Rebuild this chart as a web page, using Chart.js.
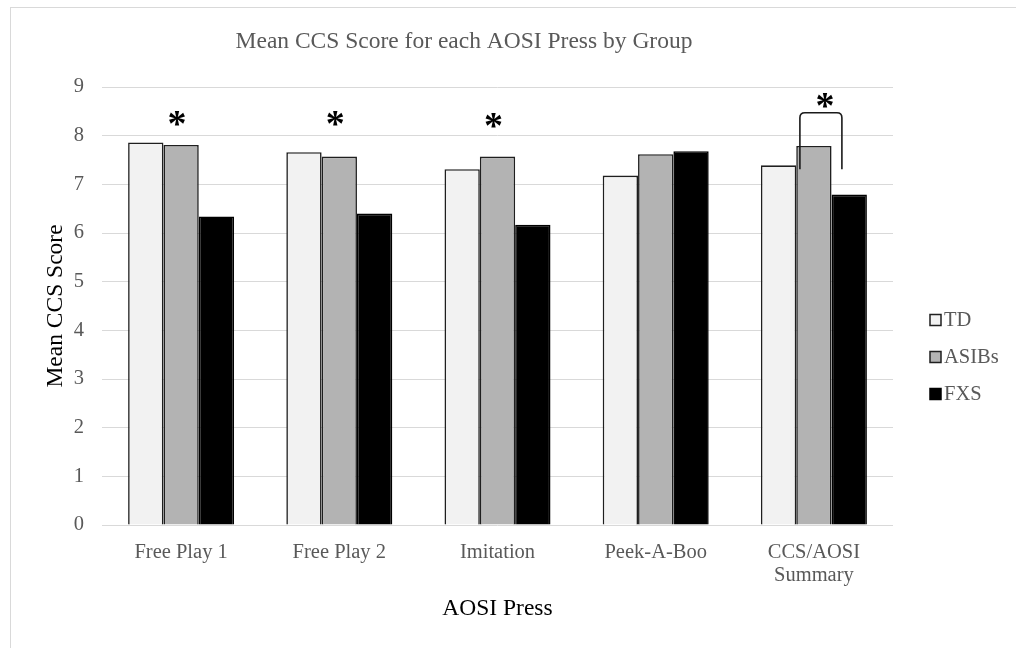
<!DOCTYPE html>
<html>
<head>
<meta charset="utf-8">
<script src="https://cdn.jsdelivr.net/npm/chart.js@4.4.1/dist/chart.umd.min.js"></script>
<style>
  html, body { margin: 0; padding: 0; background: #ffffff; }
  #wrap { position: relative; width: 1016px; height: 648px; }
</style>
</head>
<body>
<div id="wrap"><canvas id="chart" width="1016" height="648"></canvas></div>
<script>
// Mean CCS score per AOSI press, by group
const categories = ['Free Play 1', 'Free Play 2', 'Imitation', 'Peek-A-Boo', ['CCS/AOSI', 'Summary']];
const groupNames = ['TD', 'ASIBs', 'FXS'];
const tdScores    = [7.86, 7.66, 7.31, 7.18, 7.39];
const asibsScores = [7.81, 7.57, 7.57, 7.62, 7.79];
const fxsScores   = [6.34, 6.40, 6.17, 7.68, 6.79];
const yTicks = [0, 1, 2, 3, 4, 5, 6, 7, 8, 9];

// significance markers: category index and height (score units) of the star
const starCategories = [0, 1, 2, 4];
const starHeights    = [8.36, 8.36, 8.32, 8.73];

const SERIF = '"Liberation Serif", "Times New Roman", serif';
const GREY_TEXT = '#595959';

const frame = {
  id: 'frame',
  beforeDraw(chart) {
    const ctx = chart.ctx;
    ctx.save();
    ctx.fillStyle = '#ffffff';
    ctx.fillRect(0, 0, chart.width, chart.height);
    ctx.strokeStyle = '#d9d9d9';
    ctx.lineWidth = 1;
    ctx.strokeRect(10.5, 7.5, chart.width + 20, chart.height + 20);
    ctx.restore();
  }
};

const decorations = {
  id: 'decorations',
  afterDraw(chart) {
    const ctx = chart.ctx;
    const xs = chart.scales.x, ys = chart.scales.y;
    ctx.save();

    // chart title
    ctx.fillStyle = GREY_TEXT;
    ctx.font = '23.5px ' + SERIF;
    ctx.textAlign = 'center';
    ctx.textBaseline = 'middle';
    ctx.fillText('Mean CCS Score for each AOSI Press by Group', 464, 42);

    // significance stars
    ctx.fillStyle = '#000000';
    ctx.font = 'bold 38px ' + SERIF;
    ctx.textBaseline = 'alphabetic';
    starCategories.forEach((ci, k) => {
      const x = xs.getPixelForValue(ci) - 4 + (ci === 4 ? 15 : 0);
      const y = ys.getPixelForValue(starHeights[k]) + 18;
      ctx.fillText('*', x, y);
    });

    // bracket between ASIBs and FXS on the summary score
    const cx = xs.getPixelForValue(4);
    const l = cx - 14, r = cx + 28;
    const yLow = ys.getPixelForValue(7.31), yHigh = ys.getPixelForValue(8.47);
    const rad = 5;
    ctx.strokeStyle = '#1a1a1a';
    ctx.lineWidth = 1.6;
    ctx.beginPath();
    ctx.moveTo(l, yLow);
    ctx.lineTo(l, yHigh + rad);
    ctx.quadraticCurveTo(l, yHigh, l + rad, yHigh);
    ctx.lineTo(r - rad, yHigh);
    ctx.quadraticCurveTo(r, yHigh, r, yHigh + rad);
    ctx.lineTo(r, yLow);
    ctx.stroke();

    // legend
    ctx.font = '20.5px ' + SERIF;
    ctx.textAlign = 'left';
    ctx.textBaseline = 'middle';
    chart.data.datasets.forEach((ds, i) => {
      const cy = 320 + i * 37;
      ctx.fillStyle = ds.backgroundColor;
      ctx.fillRect(930, cy - 5.5, 11, 11);
      ctx.strokeStyle = ds.borderColor;
      ctx.lineWidth = 1.5;
      ctx.strokeRect(930, cy - 5.5, 11, 11);
      ctx.fillStyle = GREY_TEXT;
      ctx.fillText(ds.label, 944, cy + 1);
    });
    ctx.restore();
  }
};

new Chart(document.getElementById('chart'), {
  type: 'bar',
  data: {
    labels: categories,
    datasets: [
      { label: groupNames[0], data: tdScores,    backgroundColor: '#f2f2f2', borderColor: '#1f1f1f', borderWidth: 1.6 },
      { label: groupNames[1], data: asibsScores, backgroundColor: '#b3b3b3', borderColor: '#1f1f1f', borderWidth: 1.6 },
      { label: groupNames[2], data: fxsScores,   backgroundColor: '#000000', borderColor: '#000000', borderWidth: 1.6 }
    ]
  },
  options: {
    responsive: false,
    animation: false,
    devicePixelRatio: 1,
    datasets: { bar: { categoryPercentage: 0.67, barPercentage: 1.0 } },
    layout: { padding: { left: 0, right: 123, top: 87, bottom: 0 } },
    plugins: {
      legend: { display: false },
      title: { display: false },
      tooltip: { enabled: false }
    },
    scales: {
      x: {
        grid: { display: false },
        border: { display: false },
        ticks: {
          color: GREY_TEXT,
          padding: 8,
          maxRotation: 0,
          autoSkip: false,
          font: { family: SERIF, size: 20.5, lineHeight: 1.13 }
        },
        title: {
          display: true,
          text: 'AOSI Press',
          color: '#000000',
          font: { family: SERIF, size: 23.5 },
          padding: { top: 0, bottom: 25 }
        },
        afterFit(scale) { scale.height = 123; }
      },
      y: {
        min: 0,
        max: 9,
        afterBuildTicks(scale) { scale.ticks = yTicks.map(v => ({ value: v })); },
        grid: { color: '#d9d9d9', lineWidth: 1, drawTicks: false },
        border: { display: false },
        ticks: {
          color: GREY_TEXT,
          padding: 18,
          font: { family: SERIF, size: 20.5 }
        },
        title: {
          display: true,
          text: 'Mean CCS Score',
          color: '#000000',
          font: { family: SERIF, size: 23.5 },
          padding: { top: 42, bottom: 0 }
        },
        afterFit(scale) { scale.width = 102; }
      }
    }
  },
  plugins: [frame, decorations]
});
</script>
</body>
</html>
